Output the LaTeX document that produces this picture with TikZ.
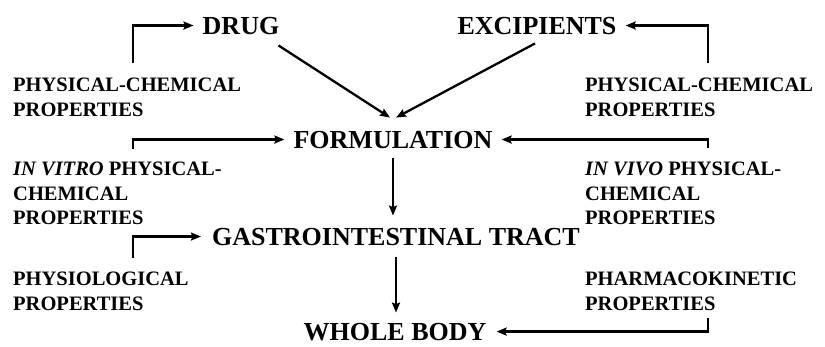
\documentclass[tikz,border=0pt]{standalone}
\usepackage{fontspec}
\setmainfont{Liberation Serif}
\usetikzlibrary{arrows.meta}
\begin{document}
\begin{tikzpicture}[x=1pt,y=-1pt,
  big/.style={font=\fontsize{26}{30}\selectfont\bfseries, inner sep=0pt},
  lab/.style={font=\fontsize{20.5}{24.5}\selectfont\bfseries, align=left, inner sep=0pt, anchor=north west},
  conn/.style={line width=2.3pt, -{Stealth[length=10pt,width=8pt,inset=1.5pt]}}
]
\useasboundingbox (0,0) rectangle (825,346);
% main nodes
\node[big, anchor=base] (drug) at (241,34) {DRUG};
\node[big, anchor=base] (exc) at (537,34) {EXCIPIENTS};
\node[big, anchor=base] (form) at (393,148) {FORMULATION};
\node[big, anchor=base] (gi) at (396,245) {GASTROINTESTINAL TRACT};
\node[big, anchor=base] (wb) at (395,340) {WHOLE BODY};
% side labels
\node[lab] (pcL) at (13,78) {PHYSICAL-CHEMICAL\\PROPERTIES};
\node[lab] (pcR) at (585,78) {PHYSICAL-CHEMICAL\\PROPERTIES};
\node[lab] (vitro) at (13,162) {\textit{IN VITRO} PHYSICAL-\\CHEMICAL\\PROPERTIES};
\node[lab] (vivo) at (585,162) {\textit{IN VIVO} PHYSICAL-\\CHEMICAL\\PROPERTIES};
\node[lab] (phys) at (13,272) {PHYSIOLOGICAL\\PROPERTIES};
\node[lab] (pk) at (585,272) {PHARMACOKINETIC\\PROPERTIES};
% connectors
\draw[conn] ([xshift=120pt,yshift=15pt]pcL.north west) |- ([xshift=-9pt]drug.west);
\draw[conn] ([xshift=123pt,yshift=15pt]pcR.north west) |- ([xshift=9pt]exc.east);
\draw[conn] ([shift={(-1pt,-11pt)}]drug.south east) -- ([shift={(-3pt,13pt)}]form.north);
\draw[conn] ([shift={(-2pt,-9pt)}]exc.south) -- ([shift={(3pt,13pt)}]form.north);
\draw[conn] ([xshift=120pt,yshift=13pt]vitro.north west) |- ([xshift=-9pt]form.west);
\draw[conn] ([xshift=123pt,yshift=14pt]vivo.north west) |- ([xshift=9pt]form.east);
\draw[conn] ([yshift=-10pt]form.south) -- ([yshift=12pt]form.south |- gi.north);
\draw[conn] ([xshift=120pt,yshift=14pt]phys.north west) |- ([xshift=-11pt]gi.west);
\draw[conn] ([yshift=-12pt]gi.south) -- ([yshift=10pt]gi.south |- wb.north);
\draw[conn] ([xshift=123pt,yshift=-7pt]pk.south west) |- ([xshift=10pt]wb.east);
\end{tikzpicture}
\end{document}
